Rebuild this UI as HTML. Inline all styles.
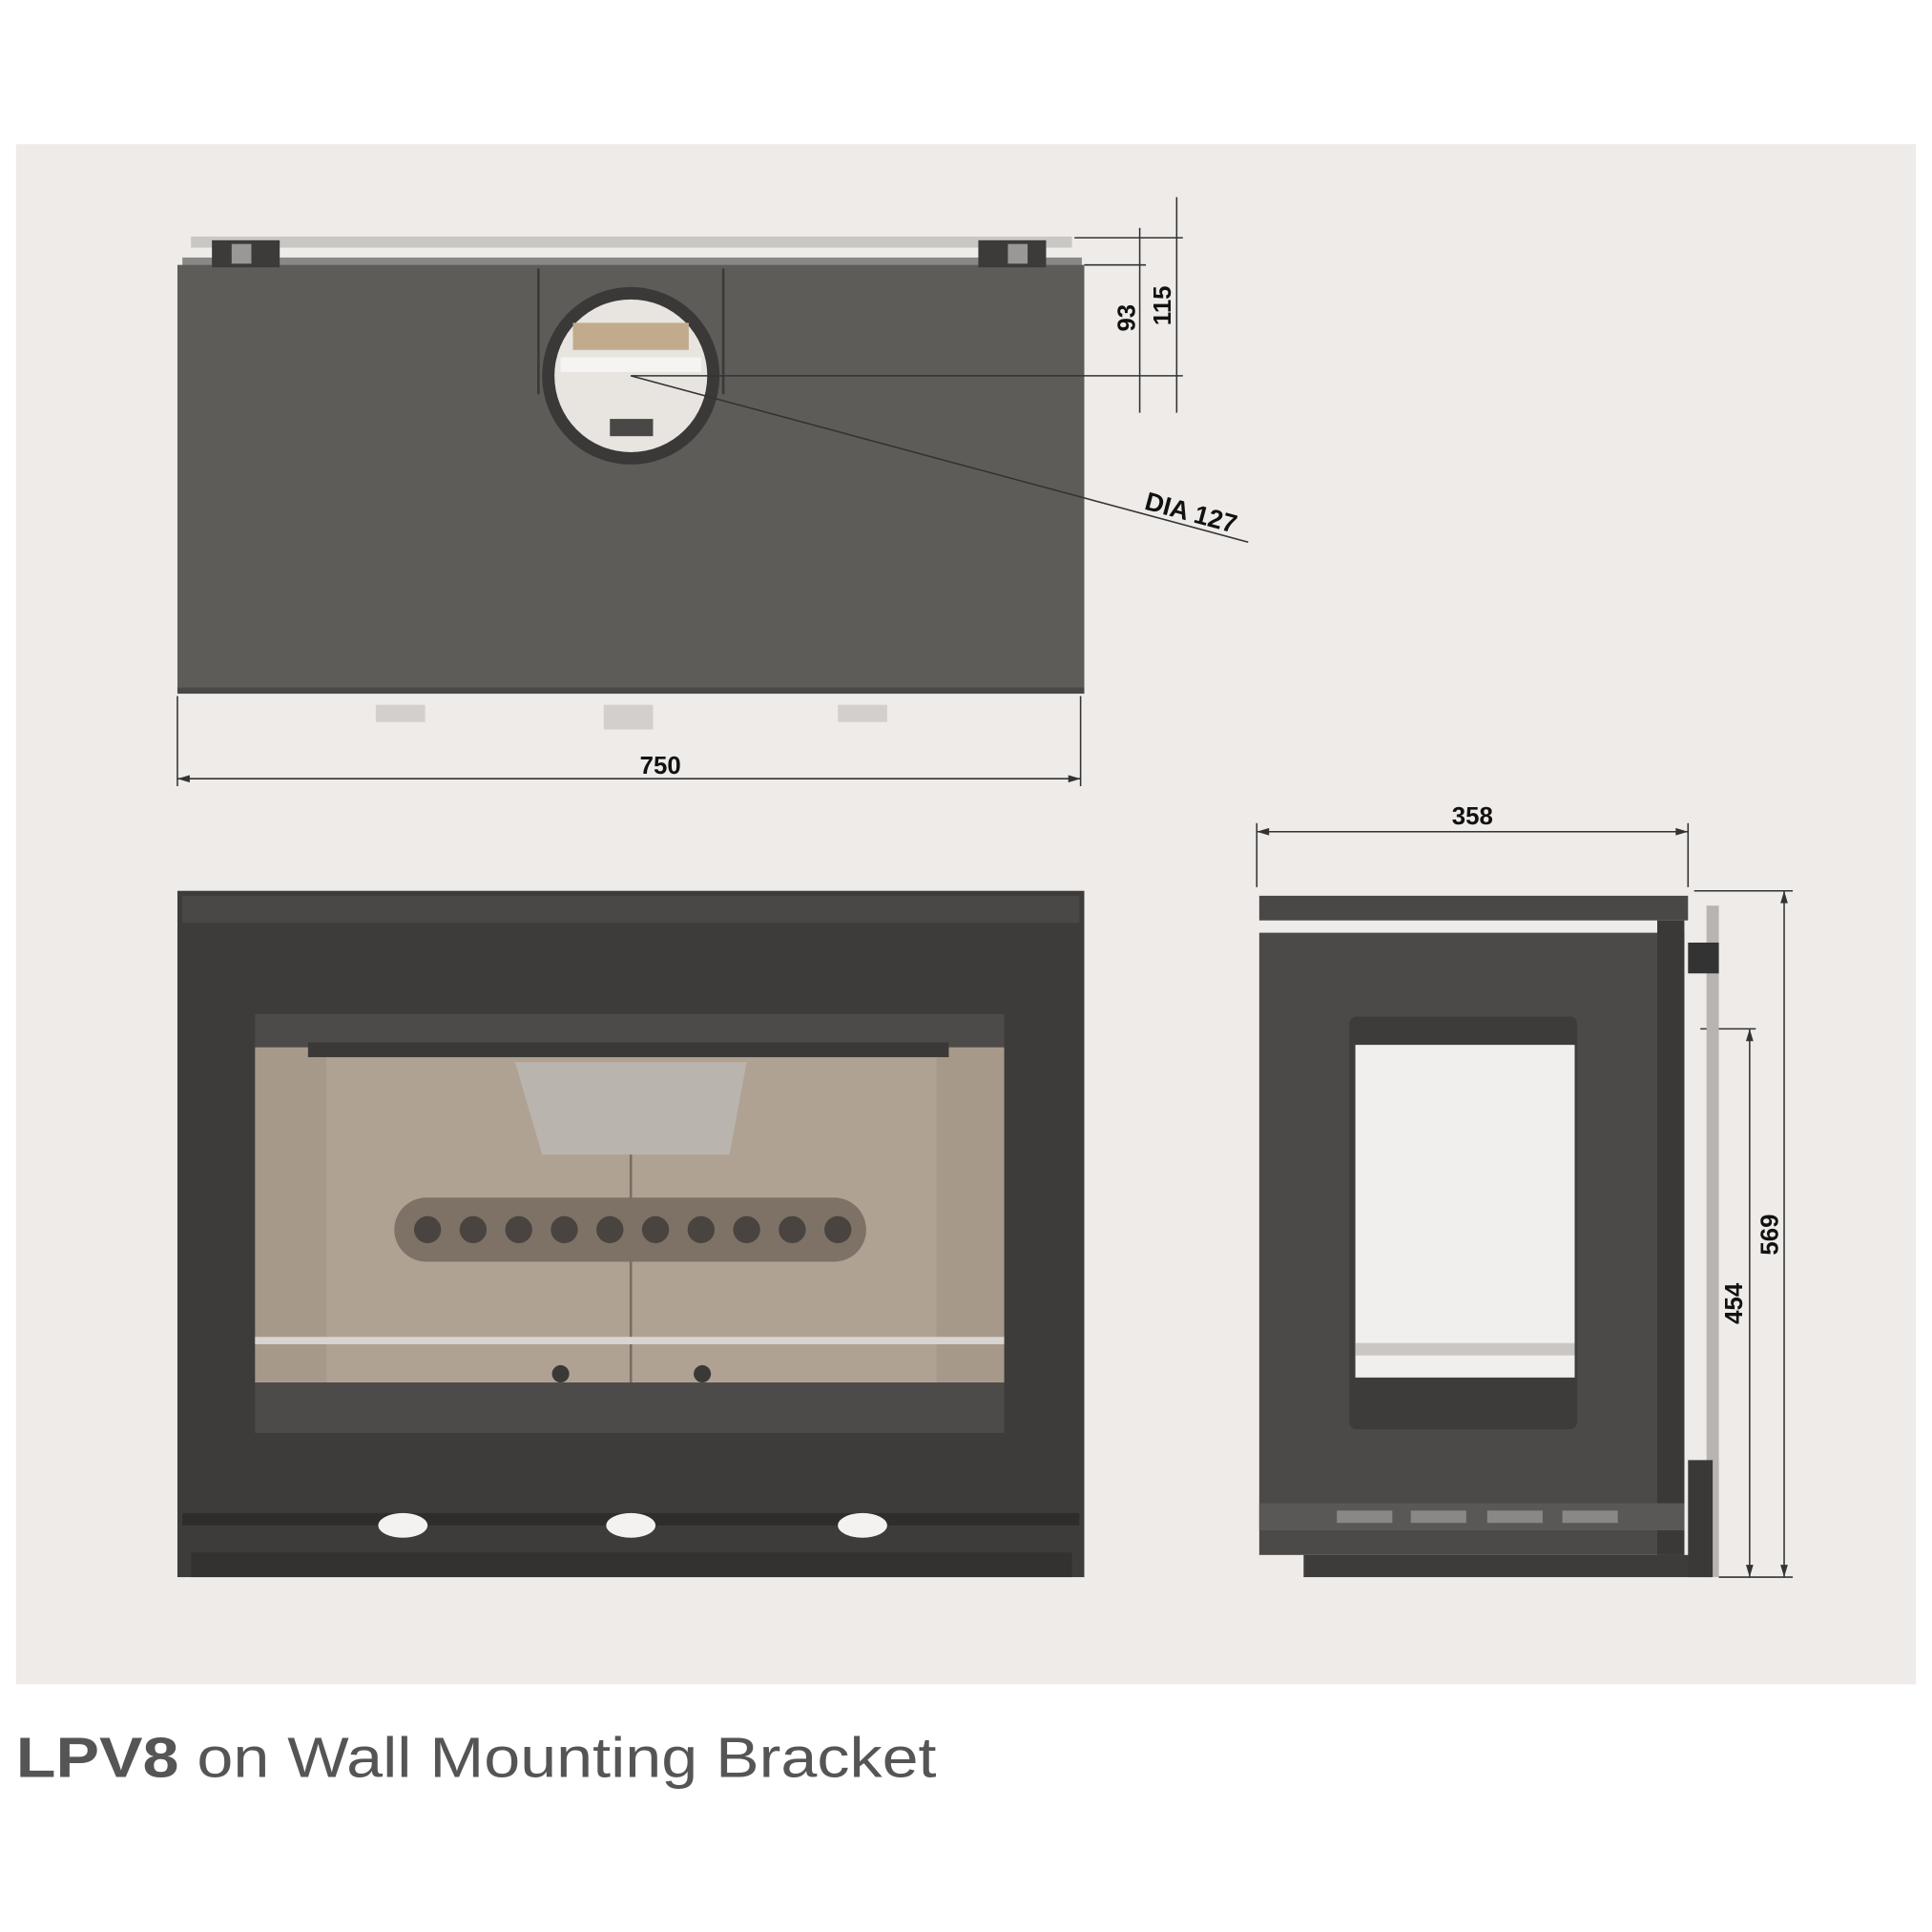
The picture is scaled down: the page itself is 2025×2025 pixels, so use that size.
<!DOCTYPE html>
<html><head><style>html,body{margin:0;padding:0;background:#fff}svg{display:block}</style></head>
<body>
<svg width="2025" height="2025" viewBox="0 0 1568 1568" xmlns="http://www.w3.org/2000/svg" font-family="Liberation Sans, sans-serif">
<rect x="0" y="0" width="1568" height="1568" fill="#fff"/>
<rect x="13" y="117" width="1542" height="1250" fill="#eeebe9"/>
<!-- TOP VIEW -->
<rect x="155" y="192" width="715" height="9" fill="#c9c7c4"/>
<rect x="148" y="209" width="730" height="8" fill="#8a8886"/>
<rect x="144" y="215" width="736" height="347" fill="#5e5c59"/>
<rect x="144" y="558" width="736" height="5" fill="#4a4846"/>
<rect x="172" y="195" width="55" height="22" fill="#3c3b3a"/>
<rect x="188" y="198" width="16" height="16" fill="#9a9896"/>
<rect x="794" y="195" width="55" height="22" fill="#3c3b3a"/>
<rect x="818" y="198" width="16" height="16" fill="#9a9896"/>
<path d="M437 218 V320 M587 218 V320" stroke="#3a3938" stroke-width="2"/>
<circle cx="512" cy="305" r="72" fill="#3a3938"/>
<circle cx="512" cy="305" r="62" fill="#e8e4e0"/>
<rect x="465" y="262" width="94" height="22" fill="#c2ab8c"/>
<rect x="455" y="290" width="114" height="12" fill="#f6f4f2"/>
<rect x="495" y="340" width="35" height="14" fill="#4a4846"/>
<rect x="305" y="572" width="40" height="14" fill="#d2cfcc"/>
<rect x="490" y="572" width="40" height="20" fill="#d2cfcc"/>
<rect x="680" y="572" width="40" height="14" fill="#d2cfcc"/>
<g stroke="#333" stroke-width="1.2" fill="none">
<path d="M144 565 V638 M877 565 V638 M144 632 H877"/>
<path d="M872 193 H960 M880 215 H930 M512 305 H960 M925 185 V335 M955 160 V335"/>
<path d="M512 305 L1013 440"/>
<path d="M1020 668 V720 M1370 668 V720 M1020 675 H1370"/>
<path d="M1375 723 H1455 M1380 835 H1425 M1448 723 V1280 M1420 835 V1280 M1395 1280 H1455"/>
</g>
<g fill="#333">
<path d="M144 632 l10 -3 v6z M877 632 l-10 -3 v6z"/>
<path d="M1020 675 l10 -3 v6z M1370 675 l-10 -3 v6z"/>
<path d="M1448 723 l-3 10 h6z M1448 1280 l-3 -10 h6z M1420 835 l-3 10 h6z M1420 1280 l-3 -10 h6z"/>
</g>
<g font-weight="bold" font-size="20" fill="#111">
<text x="536" y="628" text-anchor="middle">750</text>
<text x="1195" y="669" text-anchor="middle">358</text>
<text transform="translate(921,258) rotate(-90)" text-anchor="middle">93</text>
<text transform="translate(950,248) rotate(-90)" text-anchor="middle">115</text>
<text transform="translate(1443,1002) rotate(-90)" text-anchor="middle">569</text>
<text transform="translate(1414,1058) rotate(-90)" text-anchor="middle">454</text>
<text transform="translate(928,413) rotate(15)" font-size="21">DIA 127</text>
</g>
<!-- FRONT VIEW -->
<rect x="144" y="723" width="736" height="557" fill="#3e3c3a"/>
<rect x="148" y="727" width="728" height="22" fill="#4a4846"/>
<rect x="207" y="823" width="608" height="340" fill="#4d4b49"/>
<rect x="207" y="850" width="608" height="272" fill="#a7998a"/>
<rect x="265" y="850" width="495" height="272" fill="#b0a292"/>
<rect x="250" y="846" width="520" height="12" fill="#3a3938"/>
<path d="M418 862 H606 L592 937 H440 Z" fill="#bab4ae"/>
<path d="M512 937 V1122" stroke="#7a6e62" stroke-width="2"/>
<rect x="320" y="972" width="383" height="52" rx="26" fill="#7e7266"/>
<g fill="#4a4440">
<circle cx="347" cy="998" r="11"/><circle cx="384" cy="998" r="11"/><circle cx="421" cy="998" r="11"/><circle cx="458" cy="998" r="11"/><circle cx="495" cy="998" r="11"/><circle cx="532" cy="998" r="11"/><circle cx="569" cy="998" r="11"/><circle cx="606" cy="998" r="11"/><circle cx="643" cy="998" r="11"/><circle cx="680" cy="998" r="11"/>
</g>
<rect x="207" y="1085" width="608" height="6" fill="#d8d4cf"/>
<circle cx="455" cy="1115" r="7" fill="#3a3938"/><circle cx="570" cy="1115" r="7" fill="#3a3938"/>
<rect x="148" y="1228" width="728" height="10" fill="#2e2d2c"/>
<ellipse cx="327" cy="1238" rx="20" ry="10" fill="#f4f2f0"/>
<ellipse cx="512" cy="1238" rx="20" ry="10" fill="#f4f2f0"/>
<ellipse cx="700" cy="1238" rx="20" ry="10" fill="#f4f2f0"/>
<rect x="155" y="1260" width="715" height="20" fill="#333231"/>
<!-- SIDE VIEW -->
<rect x="1022" y="727" width="348" height="20" fill="#4a4846"/>
<rect x="1022" y="757" width="345" height="505" fill="#4c4a48"/>
<rect x="1345" y="747" width="22" height="515" fill="#3a3938"/>
<rect x="1385" y="735" width="10" height="545" fill="#b7b4b1"/>
<rect x="1370" y="765" width="25" height="25" fill="#333"/>
<rect x="1095" y="825" width="185" height="335" rx="6" fill="#3e3c3a"/>
<rect x="1100" y="848" width="178" height="270" fill="#f1efed"/>
<rect x="1100" y="1090" width="178" height="10" fill="#c9c6c3"/>
<rect x="1022" y="1220" width="345" height="22" fill="#5a5856"/>
<rect x="1085" y="1226" width="45" height="10" fill="#8a8886"/><rect x="1145" y="1226" width="45" height="10" fill="#8a8886"/><rect x="1207" y="1226" width="45" height="10" fill="#8a8886"/><rect x="1268" y="1226" width="45" height="10" fill="#8a8886"/>
<rect x="1058" y="1262" width="330" height="18" fill="#3e3c3a"/>
<rect x="1370" y="1185" width="20" height="95" fill="#3a3938"/>
<text x="13" y="1442" font-size="46" fill="#555" textLength="747" lengthAdjust="spacingAndGlyphs"><tspan font-weight="bold">LPV8</tspan> on Wall Mounting Bracket</text>
</svg>
</body></html>
